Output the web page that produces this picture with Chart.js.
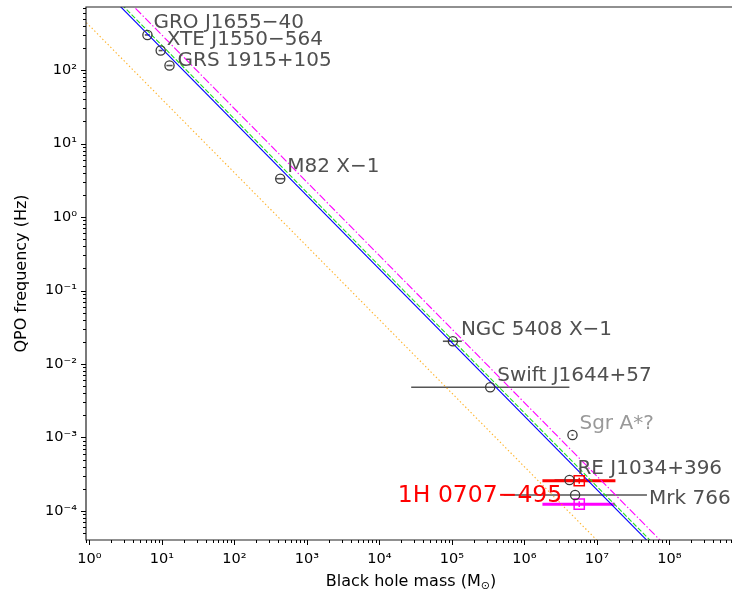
<!DOCTYPE html>
<html>
<head>
<meta charset="utf-8">
<script src="https://cdn.jsdelivr.net/npm/chart.js@4.4.1/dist/chart.umd.min.js"></script>
<style>
  body { margin: 0; background: #fff; }
</style>
</head>
<body>
<canvas id="qpoChart" width="732" height="594"></canvas>
<script>
// sources with a known QPO, mass range from the error bars
const sources = ['GRO J1655−40', 'XTE J1550−564', 'GRS 1915+105', 'M82 X−1', 'NGC 5408 X−1',
  'Swift J1644+57', 'Sgr A*?', 'RE J1034+396', 'Mrk 766'];
const bhMass = [6.3, 9.6, 12.7, 428, 1.03e5, 3.37e5, 4.6e6, 4.18e6, 5.0e6];
const massLow = [5.8, 9.0, 11.5, 375, 7.5e4, 2.74e4, 4.45e6, 2.6e6, 5.2e5];
const massHigh = [6.8, 10.2, 14.0, 490, 1.37e5, 4.17e6, 4.75e6, 6.6e6, 4.9e7];
const qpoFreq = [300, 184, 115, 3.32, 0.0204, 4.82e-3, 1.08e-3, 2.64e-4, 1.65e-4];

// 1H 0707-495, two candidate frequencies
const newSource = '1H 0707−495';
const newMass = [5.7e6, 5.7e6];
const newMassLow = [1.77e6, 1.77e6];
const newMassHigh = [1.8e7, 1.78e7];
const newFreq = [2.58e-4, 1.24e-4];
const newFreqLow = [2.35e-4, 1.13e-4];
const newFreqHigh = [2.83e-4, 1.36e-4];

// f ~ 1/M relations, given at both ends of the mass range
const relMass = [0.5, 1e9];
const relBlue = [3900, 1.95e-6];
const relGreen = [4320, 2.16e-6];
const relMagenta = [5960, 2.98e-6];
const relOrange = [800, 4.0e-7];

// axis limits
const massRange = [0.895, 7.3e8];
const freqRange = [4.03e-5, 720];

// label placement (px from the marker to the text baseline)
const labelDx = [6, 6, 8, 7, 8, 7, 7, 8, 74];
const labelDy = [-6.5, -6, 0, -6.5, -6, -6.5, -6, -6.5, 9];
const labelColor = ['#505050', '#505050', '#505050', '#505050', '#505050', '#505050', '#999999', '#505050', '#505050'];

const FONT = "'DejaVu Sans', sans-serif";
Chart.defaults.font.family = FONT;
Chart.defaults.color = '#000';

const SUP = { '0': '⁰', '1': '¹', '2': '²', '3': '³', '4': '⁴', '5': '⁵', '6': '⁶', '7': '⁷', '8': '⁸', '9': '⁹', '-': '⁻' };
const isDecade = v => Math.abs(Math.log10(v) - Math.round(Math.log10(v))) < 1e-9;
const powLabel = v => isDecade(v) ? '10' + String(Math.round(Math.log10(v))).split('').map(c => SUP[c]).join('') : '';

// 1..9 x 10^k inside the range
function logTicks(min, max) {
  const out = [];
  for (let k = Math.floor(Math.log10(min)); k <= Math.ceil(Math.log10(max)); k++) {
    for (let m = 1; m <= 9; m++) {
      const v = +(m * Math.pow(10, k)).toPrecision(6);
      if (v >= min && v <= max) out.push({ value: v });
    }
  }
  return out;
}

const pairs = (xs, ys) => xs.map((x, i) => ({ x: x, y: ys[i] }));

const errorBars = {
  id: 'errorBars',
  beforeDatasetsDraw(chart) {
    const { ctx, scales: { x, y } } = chart;
    ctx.save();
    ctx.beginPath();
    ctx.rect(chart.chartArea.left, chart.chartArea.top, chart.chartArea.width, chart.chartArea.height);
    ctx.clip();
    ctx.lineCap = 'butt';
    ctx.strokeStyle = '#555';
    ctx.lineWidth = 1.6;
    bhMass.forEach((m, i) => {
      const py = y.getPixelForValue(qpoFreq[i]);
      ctx.beginPath();
      ctx.moveTo(x.getPixelForValue(massLow[i]), py);
      ctx.lineTo(x.getPixelForValue(massHigh[i]), py);
      ctx.stroke();
    });
    ['#ff0000', '#ff00ff'].forEach((c, i) => {
      const px = x.getPixelForValue(newMass[i]);
      const py = y.getPixelForValue(newFreq[i]);
      ctx.strokeStyle = c;
      ctx.lineWidth = 3;
      ctx.beginPath();
      ctx.moveTo(x.getPixelForValue(newMassLow[i]), py);
      ctx.lineTo(x.getPixelForValue(newMassHigh[i]), py);
      ctx.stroke();
      ctx.lineWidth = 1.5;
      ctx.beginPath();
      ctx.moveTo(px, y.getPixelForValue(newFreqLow[i]));
      ctx.lineTo(px, y.getPixelForValue(newFreqHigh[i]));
      ctx.stroke();
    });
    ctx.restore();
  }
};

const frameAndLabels = {
  id: 'frameAndLabels',
  afterDraw(chart) {
    const { ctx, chartArea: a, scales: { x, y } } = chart;
    ctx.save();

    // source names
    ctx.textBaseline = 'alphabetic';
    ctx.font = '20px ' + FONT;
    sources.forEach((s, i) => {
      ctx.fillStyle = labelColor[i];
      ctx.textAlign = 'left';
      ctx.fillText(s, x.getPixelForValue(bhMass[i]) + labelDx[i], y.getPixelForValue(qpoFreq[i]) + labelDy[i]);
    });
    ctx.font = '23.5px ' + FONT;
    ctx.fillStyle = '#ff0000';
    ctx.textAlign = 'right';
    ctx.fillText(newSource, x.getPixelForValue(newMass[0]) - 17, y.getPixelForValue(newFreq[0]) + 21);

    // spines (no right one, the axes run past the edge)
    ctx.strokeStyle = '#222';
    ctx.lineWidth = 1.2;
    ctx.beginPath();
    ctx.moveTo(chart.width, a.top);
    ctx.lineTo(a.left, a.top);
    ctx.lineTo(a.left, a.bottom);
    ctx.lineTo(chart.width, a.bottom);
    ctx.stroke();

    // tick marks, long on decades
    ctx.lineWidth = 1;
    ctx.strokeStyle = '#000';
    x.ticks.forEach(t => {
      const px = Math.round(x.getPixelForValue(t.value)) + 0.5;
      const len = isDecade(t.value) ? 5 : 3;
      ctx.beginPath();
      ctx.moveTo(px, a.bottom);
      ctx.lineTo(px, a.bottom + len);
      ctx.stroke();
    });
    y.ticks.forEach(t => {
      const py = Math.round(y.getPixelForValue(t.value)) + 0.5;
      const len = isDecade(t.value) ? 5 : 3;
      ctx.beginPath();
      ctx.moveTo(a.left - len, py);
      ctx.lineTo(a.left, py);
      ctx.stroke();
    });

    // x title with the solar subscript
    const cx = 411, cy = 586;
    ctx.fillStyle = '#000';
    ctx.textAlign = 'left';
    const big = '16px ' + FONT, small = '11px ' + FONT;
    ctx.font = big;
    const w1 = ctx.measureText('Black hole mass (M').width;
    const w3 = ctx.measureText(')').width;
    ctx.font = small;
    const w2 = ctx.measureText('⊙').width;
    let sx = cx - (w1 + w2 + w3) / 2;
    ctx.font = big;
    ctx.fillText('Black hole mass (M', sx, cy);
    ctx.font = small;
    ctx.fillText('⊙', sx + w1, cy + 3);
    ctx.font = big;
    ctx.fillText(')', sx + w1 + w2, cy);
    ctx.restore();
  }
};

const relLine = (data, color, dash) => ({
  type: 'line',
  data: pairs(relMass, data),
  borderColor: color,
  borderWidth: 1.1,
  borderDash: dash,
  pointRadius: 0,
  fill: false,
  order: 5
});

new Chart(document.getElementById('qpoChart'), {
  type: 'scatter',
  data: {
    datasets: [
      {
        data: pairs(bhMass, qpoFreq),
        pointStyle: 'circle',
        pointRadius: 4.6,
        borderColor: '#3a3a3a',
        borderWidth: 1.3,
        backgroundColor: 'rgba(0,0,0,0)',
        order: 1
      },
      {
        data: [{ x: newMass[0], y: newFreq[0] }],
        pointStyle: 'rect',
        pointRadius: 7.2,
        borderColor: '#ff0000',
        borderWidth: 1.5,
        backgroundColor: 'rgba(0,0,0,0)',
        order: 1
      },
      {
        data: [{ x: newMass[1], y: newFreq[1] }],
        pointStyle: 'rect',
        pointRadius: 7.2,
        borderColor: '#ff00ff',
        borderWidth: 1.5,
        backgroundColor: 'rgba(0,0,0,0)',
        order: 1
      },
      relLine(relOrange, 'rgba(255,165,0,0.85)', [1.4, 2.4]),
      relLine(relMagenta, '#ff00ff', [8, 2.2, 1.4, 2.2]),
      relLine(relGreen, '#22e022', [5, 2]),
      relLine(relBlue, '#0000ff', [])
    ]
  },
  options: {
    responsive: false,
    animation: false,
    devicePixelRatio: 1,
    layout: { padding: { top: 7, right: 0, left: 0, bottom: 0 }, autoPadding: false },
    plugins: { legend: { display: false }, tooltip: { enabled: false } },
    scales: {
      x: {
        type: 'logarithmic',
        min: massRange[0],
        max: massRange[1],
        afterBuildTicks: s => { s.ticks = logTicks(massRange[0], massRange[1]); },
        afterFit: s => { s.height = 54; s.paddingLeft = 0; s.paddingRight = 0; },
        grid: { display: true, drawOnChartArea: false, drawTicks: true, tickLength: 5, tickColor: 'rgba(0,0,0,0)' },
        border: { display: false },
        ticks: { autoSkip: false, maxRotation: 0, padding: 6, font: { size: 14.5 }, color: '#000', callback: v => powLabel(v) },
        title: { display: false }
      },
      y: {
        type: 'logarithmic',
        min: freqRange[0],
        max: freqRange[1],
        afterBuildTicks: s => { s.ticks = logTicks(freqRange[0], freqRange[1]); },
        afterFit: s => { s.width = 86; s.paddingTop = 0; s.paddingBottom = 0; },
        grid: { display: true, drawOnChartArea: false, drawTicks: true, tickLength: 5, tickColor: 'rgba(0,0,0,0)' },
        border: { display: false },
        ticks: { autoSkip: false, padding: 4, font: { size: 14.5 }, color: '#000', callback: v => powLabel(v) },
        title: { display: true, text: 'QPO frequency (Hz)', font: { size: 16 }, color: '#000', padding: { top: 12, bottom: 0 } }
      }
    }
  },
  plugins: [errorBars, frameAndLabels]
});
</script>
</body>
</html>
